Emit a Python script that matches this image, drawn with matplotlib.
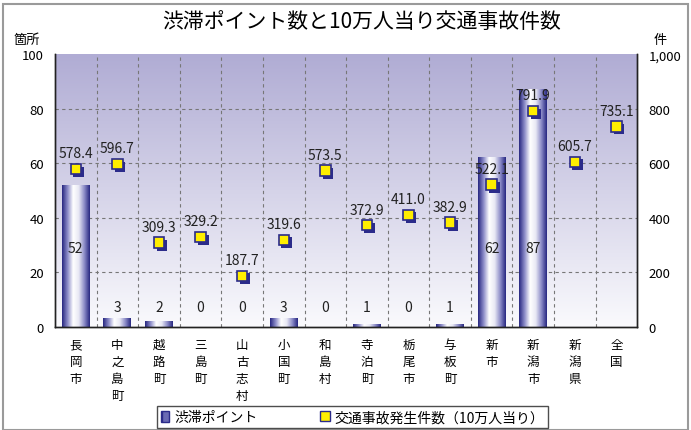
import numpy as np
import matplotlib
matplotlib.use('Agg')
from matplotlib import pyplot as plt
from matplotlib import patheffects as pe
from matplotlib.colors import LinearSegmentedColormap
from matplotlib.patches import Rectangle
from matplotlib.ticker import FuncFormatter

plt.rcParams['font.family'] = ['Noto Sans CJK JP', 'DejaVu Sans']

# data
categories = ['長岡市', '中之島町', '越路町', '三島町', '山古志村', '小国町', '和島村',
              '寺泊町', '栃尾市', '与板町', '新市', '新潟市', '新潟県', '全国']
jam_points = [52, 3, 2, 0, 0, 3, 0, 1, 0, 1, 62, 87, None, None]
accidents = [578.4, 596.7, 309.3, 329.2, 187.7, 319.6, 573.5, 372.9, 411.0, 382.9,
             522.1, 791.9, 605.7, 735.1]

navy = '#2b2b8a'
bar_cmap = LinearSegmentedColormap.from_list(
    'cyl', ['#262680', '#8c8cc8', '#ffffff', '#e8e8f4', '#8c8cc8', '#262680'])
bg_cmap = LinearSegmentedColormap.from_list('bg', ['#b0acd4', '#fafafd'])

fig = plt.figure(figsize=(6.91, 4.31), dpi=100)
fig.patches.append(Rectangle((0.004, 0.0), 0.992, 0.988, transform=fig.transFigure,
                             fill=False, edgecolor='#9a9a9a', linewidth=1.5))

ax = fig.add_axes([0.0796, 0.239, 0.8425, 0.633])
ax2 = ax.twinx()
n = len(categories)
x = np.arange(n)

# background gradient (purple on top, near white at the bottom)
grad = np.linspace(0, 1, 256).reshape(-1, 1)
ax.imshow(grad, cmap=bg_cmap, extent=(-0.5, n - 0.5, 0, 100), aspect='auto', zorder=0)

# grid
for v in [20, 40, 60, 80]:
    ax.axhline(v, color='#777777', linestyle=(0, (3, 3)), linewidth=0.8, zorder=1)
for b in np.arange(0.5, n - 0.5, 1):
    ax.axvline(b, color='#777777', linestyle=(0, (3, 3)), linewidth=0.8, zorder=1)

# bars (cylinder look)
bw = 0.67
hgrad = np.linspace(0, 1, 256).reshape(1, -1)
for i, v in enumerate(jam_points):
    if v is None:
        continue
    if v > 0:
        ax.imshow(hgrad, cmap=bar_cmap, extent=(i - bw / 2, i + bw / 2, 0, v),
                  aspect='auto', zorder=2)
    ty = 29 if v > 20 else 7.5
    ax.text(i, ty, str(v), ha='center', va='center', fontsize=10, color='#222222', zorder=5)
ax.set_xlim(-0.5, n - 0.5)
ax.set_ylim(0, 100)
ax2.set_ylim(0, 1000)

# accident markers with shadow
ax2.plot(x, accidents, linestyle='none', marker='s', markersize=7.5,
         markerfacecolor='#ffee00', markeredgecolor=navy, markeredgewidth=1.2, zorder=4,
         path_effects=[pe.SimplePatchShadow(offset=(2, -2), shadow_rgbFace=navy, alpha=1),
                       pe.Normal()])
for i, v in enumerate(accidents):
    ax2.text(i, v + 32, f'{v:.1f}', ha='center', va='bottom', fontsize=10, color='#222222')

# axes styling
ax.set_xticks(x)
ax.set_xticklabels(['\n'.join(c) for c in categories], fontsize=9, linespacing=1.4,
                   va='top')
ax.tick_params(axis='x', length=0, pad=8)
ax.set_yticks(range(0, 101, 20))
ax.tick_params(axis='y', length=0, labelsize=9.5, pad=8)
ax2.set_yticks(range(0, 1001, 200))
ax2.yaxis.set_major_formatter(FuncFormatter(lambda v, p: f'{int(v):,}'))
ax2.tick_params(axis='y', length=0, labelsize=9.5, pad=8)
for a in (ax, ax2):
    a.spines['top'].set_visible(False)
    for s in ('left', 'right', 'bottom'):
        a.spines[s].set_color('#222222')
        a.spines[s].set_linewidth(1.0)

fig.text(0.523, 0.950, '渋滞ポイント数と10万人当り交通事故件数', ha='center', va='center',
         fontsize=15)
fig.text(0.038, 0.905, '箇所', ha='center', va='center', fontsize=9.5)
fig.text(0.955, 0.905, '件', ha='center', va='center', fontsize=9.5)

# legend
h1 = Rectangle((0, 0), 1, 1, facecolor='#6a6ab4', edgecolor=navy, hatch='||')
h2, = ax2.plot([], [], linestyle='none', marker='s', markersize=7,
               markerfacecolor='#ffee00', markeredgecolor=navy)
leg = fig.legend([h1, h2], ['渋滞ポイント', '交通事故発生件数（10万人当り）'],
                 loc='lower center', bbox_to_anchor=(0.51, -0.012), ncol=2, fontsize=10,
                 frameon=True, fancybox=False, edgecolor='#222222', handlelength=0.6,
                 handleheight=0.8, handletextpad=0.4, columnspacing=4.5, borderpad=0.3)
leg.get_frame().set_linewidth(1.0)

fig.savefig('out.png', dpi=100)
